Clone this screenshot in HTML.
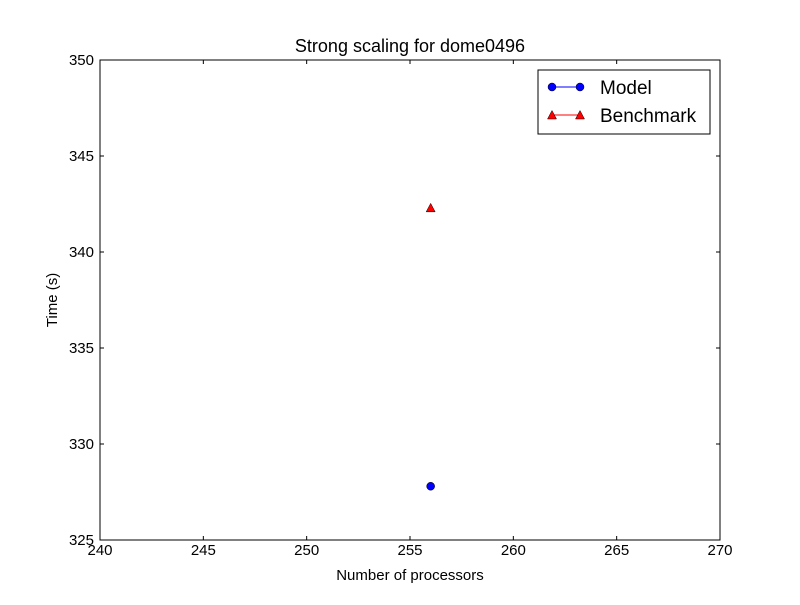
<!DOCTYPE html>
<html><head><meta charset="utf-8"><style>
body{margin:0;background:#fff;}
svg text{font-family:"Liberation Sans","DejaVu Sans",sans-serif;}
</style></head><body>
<svg id="chart" width="800" height="600">
<rect x="0" y="0" width="800" height="600" fill="#fff"/>
<g id="ticks"></g>
<g id="marks"></g>
<rect x="100" y="60" width="620" height="480" fill="none" stroke="#000" stroke-width="1"/>
<text x="410" y="52" font-size="18" text-anchor="middle">Strong scaling for dome0496</text>
<text x="410" y="580" font-size="15" text-anchor="middle">Number of processors</text>
<text x="57" y="300" font-size="15" text-anchor="middle" transform="rotate(-90 57 300)">Time (s)</text>
<g>
<rect x="538" y="70" width="172" height="64" fill="#fff" stroke="#000"/>
<g>
<line x1="552" y1="87" x2="580" y2="87" stroke="#0000ff"/>
<circle cx="552" cy="87" r="4" fill="#0000ff" stroke="#000" stroke-width="0.5"/>
<circle cx="580" cy="87" r="4" fill="#0000ff" stroke="#000" stroke-width="0.5"/>
<text x="600" y="94" font-size="19">Model</text>
</g>
<g>
<line x1="552" y1="115" x2="580" y2="115" stroke="#ff0000"/>
<polygon points="552,110.5 556.5,119 547.5,119" fill="#ff0000" stroke="#000" stroke-width="0.5"/>
<polygon points="580,110.5 584.5,119 575.5,119" fill="#ff0000" stroke="#000" stroke-width="0.5"/>
<text x="600" y="122" font-size="19">Benchmark</text>
</g>
</g>
</svg>
<script>
const xTicks=[240,245,250,255,260,265,270];
const yTicks=[325,330,335,340,345,350];
const procs=[256];
const modelTimes=[327.8];
const benchTimes=[342.3];
const L=100,R=720,T=60,B=540;
const xs=v=>L+(v-240)/(270-240)*(R-L);
const ys=v=>B-(v-325)/(350-325)*(B-T);
const NS="http://www.w3.org/2000/svg";
const tg=document.getElementById('ticks');
const mg=document.getElementById('marks');
function mk(tag,attrs,parent){const e=document.createElementNS(NS,tag);for(const k in attrs)e.setAttribute(k,attrs[k]);parent.appendChild(e);return e;}
xTicks.forEach(v=>{
 const x=xs(v);
 mk('line',{x1:x,y1:B,x2:x,y2:B-4,stroke:'#000'},tg);
 mk('line',{x1:x,y1:T,x2:x,y2:T+4,stroke:'#000'},tg);
 const t=mk('text',{x:x,y:B+15,'font-size':15,'text-anchor':'middle'},tg);
 t.textContent=v;
 
 
});
yTicks.forEach(v=>{
 const y=ys(v);
 mk('line',{x1:L,y1:y,x2:L+4,y2:y,stroke:'#000'},tg);
 mk('line',{x1:R,y1:y,x2:R-4,y2:y,stroke:'#000'},tg);
 const t=mk('text',{x:L-6,y:y+5,'font-size':15,'text-anchor':'end'},tg);
 t.textContent=v;
 
 
});
procs.forEach((p,i)=>{
 const c=mk('circle',{cx:xs(p),cy:ys(modelTimes[i]),r:4,fill:'#0000ff',stroke:'#000','stroke-width':0.5},mg);
 
 
 const x=xs(p),y=ys(benchTimes[i]);
 const t=mk('polygon',{points:`${x},${y-4.5} ${x+4.5},${y+4} ${x-4.5},${y+4}`,fill:'#ff0000',stroke:'#000','stroke-width':0.5},mg);
 
 
});
</script>
</body></html>
